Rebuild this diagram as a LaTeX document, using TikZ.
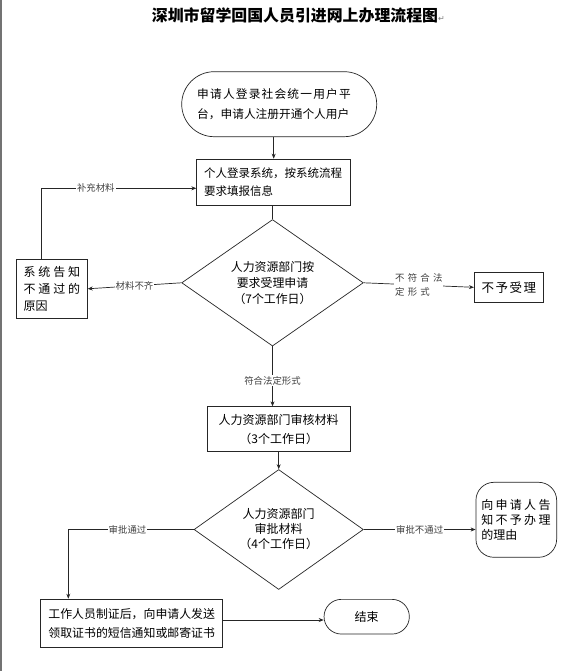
\documentclass[tikz,border=0pt]{standalone}
\usepackage{fontspec}
\setmainfont{Noto Sans CJK SC}
\newfontfamily\symf{DejaVu Sans}
\usetikzlibrary{shapes.geometric,arrows.meta}
\newcommand\zgap{\hskip2.9pt}
\newcommand\zgapb{\hskip2.3pt}
\newcommand\zgapc{\hskip3.2pt}
\newcommand\zgapd{\hskip1.5pt}
\newcommand\zgape{\hskip1.2pt}
\begin{document}
\begin{tikzpicture}[x=1pt,y=-1pt,
  ln/.style={line width=0.7pt, draw=black!85},
  arr/.style={ln, -{Stealth[length=5pt,width=4pt]}},
  box/.style={ln, rectangle, inner sep=0pt, align=center},
  dia/.style={ln, diamond, inner sep=0pt, align=center},
  lab/.style={fill=white, inner sep=1pt, text=black!75, font=\fontsize{9.4}{14}\selectfont},
]
\useasboundingbox[fill=white] (0,0) rectangle (577,671);
\draw[black!55, line width=2pt] (1,0) -- (1,671);

\node[anchor=west, inner sep=0pt, font=\fontsize{15.9}{17}\selectfont\bfseries] (title) at (151.7,15.5)
  {深圳市留学回国人员引进网上办理流程图{\symf\mdseries\fontsize{8}{8}\selectfont\color{gray}↵}};

\node[box, rounded corners=32.5pt, minimum width=195pt, minimum height=65pt, text width=164pt, align=left,
  font=\fontsize{11.7}{20}\selectfont] (s) at (279.2,104.2)
  {申\zgape 请\zgape 人\zgape 登\zgape 录\zgape 社\zgape 会\zgape 统\zgape 一\zgape 用\zgape 户\zgape 平\\台，申请人注册开通个人用户};

\node[box, minimum width=154pt, minimum height=46pt, text width=139pt, align=left,
  font=\fontsize{11.5}{18.5}\selectfont] (b2) at (273.7,182)
  {个人登录系统，按系统流程\\要求填报信息};

\node[dia, minimum width=181.6pt, minimum height=101pt, font=\fontsize{11.9}{16}\selectfont] (d1) at (272.5,282.8)
  {人力资源部门按\\要求受理申请\\（7个工作日）};

\node[box, minimum width=70.6pt, minimum height=59pt, text width=57pt, align=left,
  font=\fontsize{12}{16.7}\selectfont] (b3) at (52,288.8)
  {系\zgap 统\zgap 告\zgap 知\\不\zgap 通\zgap 过\zgap 的\\原因};

\node[box, minimum width=69pt, minimum height=30pt, font=\fontsize{12.5}{14}\selectfont] (nb) at (508.8,287.3)
  {不\zgapd 予\zgapd 受\zgapd 理};

\node[box, minimum width=142.7pt, minimum height=45pt, font=\fontsize{12}{19}\selectfont] (b4) at (278.7,429.2)
  {人力资源部门审核材料\\（3个工作日）};

\node[dia, minimum width=169.3pt, minimum height=93pt, font=\fontsize{12}{15}\selectfont] (d2) at (278.7,529.5)
  {人力资源部门\\审批材料\\（4个工作日）};

\node[box, rounded corners=18pt, minimum width=80.7pt, minimum height=75pt, text width=70pt, align=left,
  font=\fontsize{12}{15}\selectfont] (rj) at (516.3,519.8)
  {向\zgapb 申\zgapb 请\zgapb 人\zgapb 告\\知\zgapb 不\zgapb 予\zgapb 办\zgapb 理\\的理由};

\node[box, minimum width=182pt, minimum height=48.3pt, font=\fontsize{11.9}{18.7}\selectfont] (b5) at (131.7,623.2)
  {工作人员制证后，向申请人发送\\领取证书的短信通知或邮寄证书};

\node[box, rounded corners=17.3pt, minimum width=85.3pt, minimum height=34.7pt, font=\fontsize{12}{14}\selectfont] (e) at (366.7,616.7)
  {结束};

% connectors
\draw[arr] (s.south -| b2.north) -- (b2.north);
\draw[ln] (d1.north |- b2.south) -- (d1.north);

\draw[arr] (d1.west) -- (b3.east)
  node[lab, midway] (l1) {材料不齐};

\draw[arr] (d1.east) -- (nb.west)
  node[lab, midway, align=left] (l2) {不\zgapc 符\zgapc 合\zgapc 法\\定\zgapc 形\zgapc 式};

\draw[arr] ([xshift=-10.3pt]b3.north) |- ([yshift=-6.3pt]b2.west);
\node[lab] (l3) at (95.8,188.3) {补充材料};

\draw[arr] (d1.south) -- (d1.south |- b4.north)
  node[lab, pos=0.57] (l4) {符合法定形式};

\draw[arr] (d2.north |- b4.south) -- (d2.north);

\draw[arr] (d2.west) -| ([xshift=-63.4pt]b5.north);
\node[lab] (l5) at (127.5,529.5) {审批通过};

\draw[arr] (d2.east) -- (d2.east -| rj.west)
  node[lab, midway] (l6) {审批不通过};

\draw[arr] ([yshift=3.2pt]b5.east) -- ([yshift=-3.3pt]e.west);
\end{tikzpicture}
\end{document}
